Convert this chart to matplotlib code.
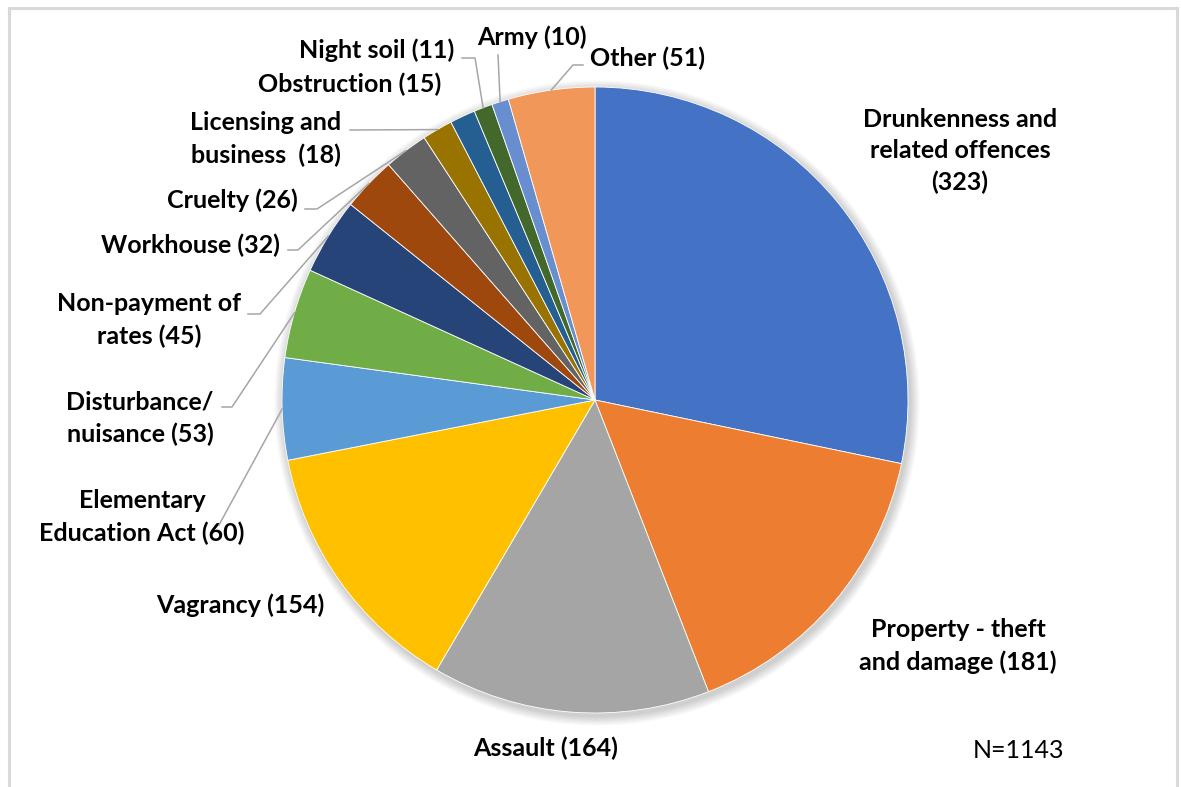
import numpy as np
import matplotlib
matplotlib.use("Agg")
import matplotlib.pyplot as plt
from matplotlib.lines import Line2D
from matplotlib.patches import Circle

categories = ["Drunkenness and\nrelated offences", "Property - theft\nand damage", "Assault", "Vagrancy",
              "Elementary\nEducation Act", "Disturbance/\nnuisance", "Non-payment of\nrates", "Workhouse",
              "Cruelty", "Licensing and\nbusiness ", "Obstruction", "Night soil", "Army", "Other"]
counts = [323, 181, 164, 154, 60, 53, 45, 32, 26, 18, 15, 11, 10, 51]
colours = ["#4472C4", "#ED7D31", "#A5A5A5", "#FFC000", "#5B9BD5", "#70AD47", "#264478",
           "#9E480E", "#636363", "#997300", "#255E91", "#43682B", "#698ED0", "#F1975A"]
# text between the name and the count
separators = ["\n", " ", " ", " ", " ", " ", " ", " ", " ", " ", " ", " ", " ", " "]

W, H = 1181, 787
CX, CY, R = 595, 400, 313


def px(x, y):
    # pixel position (from top-left) -> pie data units
    return (x - CX) / R, (CY - y) / R


# label centre, and leader path (None = no leader); leader points in pixels, last one joins the slice
label_pos = [(960, 151), (958, 646), (546, 748), (240, 605), (142, 517), (140, 418), (149, 320),
             (190, 245), (232, 200), (266, 139), (350, 84), (377, 50), (532, 37), (648, 58)]
leaders = [None, None, None, None, [(219, 525)], [(222, 407), (232, 407)], [(248, 314), (260, 314)],
           [(288, 250), (298, 250)], [(305, 209), (317, 209)], [(350, 130)], None,
           [(462, 58), (475, 58)], [(498, 55)], [(583, 65), (573, 65)]]

fig = plt.figure(figsize=(W / 100, H / 100), dpi=100)
ax = fig.add_axes([0, 0, 1, 1])

# soft shadow under the pie
for i in range(8):
    ax.add_patch(Circle((2 / R, -3 / R), 1 + (8 - i) * 1.2 / R, color="#000000",
                        alpha=0.025, lw=0, zorder=0))

ax.pie(counts, colors=colours, startangle=90, counterclock=False, radius=1,
       wedgeprops=dict(linewidth=0.6, edgecolor="#ffffff"))

total = sum(counts)
cum = np.cumsum([0] + counts[:-1])
font = dict(family="Lato", fontweight="bold", fontsize=18, color="#000000")
for i, (name, n) in enumerate(zip(categories, counts)):
    lx, ly = px(*label_pos[i])
    ax.text(lx, ly, f"{name}{separators[i]}({n})", ha="center", va="center",
            multialignment="center", linespacing=1.45, **font)
    if leaders[i] is not None:
        a = 2 * np.pi * (cum[i] + n / 2) / total
        edge = (np.sin(a), np.cos(a))
        pts = [px(*p) for p in leaders[i]] + [edge]
        xs, ys = zip(*pts)
        ax.plot(xs, ys, color="#a6a6a6", lw=1.1, zorder=3)

nx, ny = px(1019, 750)
ax.text(nx, ny, f"N={total}", ha="center", va="center", family="Lato", fontsize=18, color="#000000")

ax.set_xlim(-CX / R, (W - CX) / R)
ax.set_ylim(-(H - CY) / R, CY / R)
ax.axis("off")

# chart border
frame_col = "#d9d9d9"
fig.add_artist(Line2D([9 / W, 9 / W], [0, 1 - 8 / H], color=frame_col, lw=2.2))
fig.add_artist(Line2D([9 / W, 1177 / W], [1 - 8 / H, 1 - 8 / H], color=frame_col, lw=2.2))
fig.add_artist(Line2D([1177 / W, 1177 / W], [0, 1 - 8 / H], color=frame_col, lw=2.2))

fig.savefig("out.png", dpi=100)
